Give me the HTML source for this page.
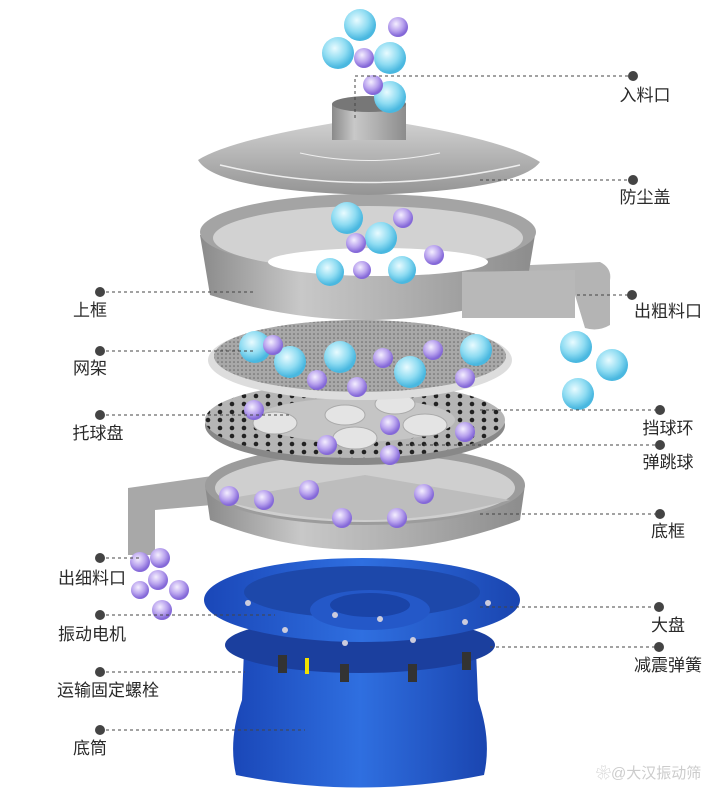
<!DOCTYPE html>
<html><head><meta charset="utf-8"><style>
html,body{margin:0;padding:0;background:#fff}
svg{display:block}
text{font-family:"Liberation Sans","Noto Sans CJK SC",sans-serif;font-size:17px;fill:#2a2a2a}
</style></head><body>
<svg width="720" height="798" viewBox="0 0 720 798" xmlns="http://www.w3.org/2000/svg">
<defs>
<linearGradient id="steel" x1="0" x2="1"><stop offset="0" stop-color="#8a8a8a"/><stop offset=".3" stop-color="#c8c8c8"/><stop offset=".6" stop-color="#b0b0b0"/><stop offset="1" stop-color="#8c8c8c"/></linearGradient>
<linearGradient id="lid" x1="0" y1="0" x2="0" y2="1"><stop offset="0" stop-color="#d0d0d0"/><stop offset="1" stop-color="#949494"/></linearGradient>
<linearGradient id="blue" x1="0" x2="1"><stop offset="0" stop-color="#1a47b8"/><stop offset=".5" stop-color="#2f6fe0"/><stop offset="1" stop-color="#1a45b0"/></linearGradient>
<radialGradient id="cb" cx=".4" cy=".35" r=".6"><stop offset="0" stop-color="#e8fbff"/><stop offset=".6" stop-color="#8fdcf2"/><stop offset="1" stop-color="#4ab8e0"/></radialGradient>
<radialGradient id="pb" cx=".4" cy=".35" r=".6"><stop offset="0" stop-color="#f4eeff"/><stop offset=".6" stop-color="#b9a3ee"/><stop offset="1" stop-color="#8468d8"/></radialGradient>
<pattern id="holes" width="12" height="8" patternUnits="userSpaceOnUse"><rect width="12" height="8" fill="#b5b5b5"/><circle cx="4" cy="4" r="2.3" fill="#222"/></pattern>
<pattern id="mesh" width="4" height="4" patternUnits="userSpaceOnUse"><rect width="4" height="4" fill="#a8a8a8"/><circle cx="2" cy="2" r=".8" fill="#666"/></pattern>
</defs>

<!-- blue base drum -->
<path d="M244 650 L242 700 Q228 740 236 775 Q360 800 484 775 Q492 740 478 700 L476 650 Z" fill="url(#blue)"/>
<ellipse cx="360" cy="645" rx="135" ry="28" fill="#1b3f9e"/>
<ellipse cx="362" cy="600" rx="158" ry="42" fill="url(#blue)"/>
<ellipse cx="362" cy="592" rx="118" ry="26" fill="#1d48aa"/>
<ellipse cx="370" cy="610" rx="60" ry="20" fill="#2458c8"/>
<ellipse cx="370" cy="605" rx="40" ry="12" fill="#1a44a8"/>
<rect x="305" y="658" width="4" height="16" fill="#f2e200"/>
<g fill="#333"><rect x="278" y="655" width="9" height="18"/><rect x="340" y="664" width="9" height="18"/><rect x="408" y="664" width="9" height="18"/><rect x="462" y="652" width="9" height="18"/></g>
<g fill="#ccd"><circle cx="248" cy="603" r="3"/><circle cx="285" cy="630" r="3"/><circle cx="345" cy="643" r="3"/><circle cx="413" cy="640" r="3"/><circle cx="465" cy="622" r="3"/><circle cx="488" cy="603" r="3"/><circle cx="335" cy="615" r="3"/><circle cx="380" cy="619" r="3"/></g>

<!-- bottom frame -->
<path d="M128 488 L212 476 L212 505 L155 510 L155 555 L128 555 Z" fill="#a8a8a8"/>
<path d="M205 485 L210 520 Q360 580 520 520 L525 485 Z" fill="url(#steel)"/>
<ellipse cx="365" cy="485" rx="160" ry="40" fill="#9c9c9c"/>
<ellipse cx="365" cy="488" rx="150" ry="34" fill="#cfcfcf"/>
<path d="M220 500 L365 475 L510 500 Q365 540 220 500Z" fill="#bdbdbd"/>

<!-- ball tray -->
<ellipse cx="355" cy="425" rx="150" ry="40" fill="#888"/>
<ellipse cx="355" cy="420" rx="150" ry="38" fill="url(#holes)"/>
<ellipse cx="355" cy="420" rx="100" ry="22" fill="#c5c5c5"/>
<g fill="#e4e4e4" stroke="#aaa"><ellipse cx="275" cy="423" rx="22" ry="11"/><ellipse cx="355" cy="438" rx="22" ry="11"/><ellipse cx="425" cy="425" rx="22" ry="11"/><ellipse cx="345" cy="415" rx="20" ry="10"/><ellipse cx="395" cy="404" rx="20" ry="10"/></g>

<!-- mesh frame -->
<ellipse cx="360" cy="360" rx="152" ry="40" fill="#ddd"/>
<ellipse cx="360" cy="356" rx="146" ry="36" fill="url(#mesh)"/>

<!-- upper frame -->
<path d="M462 268 L600 262 Q612 268 610 280 L610 325 Q598 332 585 328 L575 295 L462 300 Z" fill="#b4b4b4"/>
<path d="M200 235 L210 295 Q365 345 525 295 L535 235 Z" fill="url(#steel)"/>
<ellipse cx="368" cy="232" rx="168" ry="38" fill="#a4a4a4"/>
<ellipse cx="368" cy="238" rx="155" ry="32" fill="#d2d2d2"/>
<ellipse cx="378" cy="262" rx="110" ry="14" fill="#fff"/>
<path d="M462 272 L575 270 L575 318 L462 318 Z" fill="#b8b8b8"/>

<!-- lid -->
<path d="M198 160 Q230 140 340 122 L395 122 Q505 140 540 162 Q520 190 368 195 Q215 190 198 160Z" fill="url(#lid)"/>
<path d="M220 165 Q368 200 520 165" stroke="#eee" fill="none" stroke-width="1.5"/>
<path d="M300 153 Q368 168 440 153" stroke="#eee" fill="none"/>
<rect x="332" y="104" width="74" height="36" fill="url(#steel)"/>
<ellipse cx="369" cy="104" rx="37" ry="8" fill="#777"/>

<!-- balls -->
<g fill="url(#cb)">
<circle cx="360" cy="25" r="16"/><circle cx="338" cy="53" r="16"/><circle cx="390" cy="58" r="16"/><circle cx="390" cy="97" r="16"/>
<circle cx="347" cy="218" r="16"/><circle cx="381" cy="238" r="16"/><circle cx="330" cy="272" r="14"/><circle cx="402" cy="270" r="14"/>
<circle cx="255" cy="347" r="16"/><circle cx="290" cy="362" r="16"/><circle cx="340" cy="357" r="16"/><circle cx="410" cy="372" r="16"/><circle cx="476" cy="350" r="16"/>
<circle cx="576" cy="347" r="16"/><circle cx="612" cy="365" r="16"/><circle cx="578" cy="394" r="16"/>
</g>
<g fill="url(#pb)">
<circle cx="398" cy="27" r="10"/><circle cx="364" cy="58" r="10"/><circle cx="373" cy="85" r="10"/>
<circle cx="403" cy="218" r="10"/><circle cx="356" cy="243" r="10"/><circle cx="434" cy="255" r="10"/><circle cx="362" cy="270" r="9"/>
<circle cx="273" cy="345" r="10"/><circle cx="317" cy="380" r="10"/><circle cx="383" cy="358" r="10"/><circle cx="433" cy="350" r="10"/><circle cx="465" cy="378" r="10"/><circle cx="357" cy="387" r="10"/>
<circle cx="254" cy="410" r="10"/><circle cx="390" cy="425" r="10"/><circle cx="327" cy="445" r="10"/><circle cx="390" cy="455" r="10"/><circle cx="465" cy="432" r="10"/>
<circle cx="229" cy="496" r="10"/><circle cx="264" cy="500" r="10"/><circle cx="309" cy="490" r="10"/><circle cx="342" cy="518" r="10"/><circle cx="397" cy="518" r="10"/><circle cx="424" cy="494" r="10"/>
<circle cx="140" cy="562" r="10"/><circle cx="160" cy="558" r="10"/><circle cx="158" cy="580" r="10"/><circle cx="179" cy="590" r="10"/><circle cx="162" cy="610" r="10"/><circle cx="140" cy="590" r="9"/>
</g>

<!-- leader lines -->
<g stroke="#444" stroke-dasharray="3,3" fill="none" stroke-width="1">
<path d="M355 118 V76 H632"/>
<path d="M480 180 H632"/>
<path d="M577 295 H632"/>
<path d="M480 410 H660"/>
<path d="M400 445 H660"/>
<path d="M480 514 H660"/>
<path d="M480 607 H659"/>
<path d="M490 647 H659"/>
<path d="M100 292 H255"/>
<path d="M100 351 H255"/>
<path d="M100 415 H290"/>
<path d="M100 558 H140"/>
<path d="M100 615 H275"/>
<path d="M100 672 H245"/>
<path d="M100 730 H305"/>
</g>
<g fill="#444">
<circle cx="633" cy="76" r="5"/><circle cx="633" cy="180" r="5"/><circle cx="632" cy="295" r="5"/>
<circle cx="660" cy="410" r="5"/><circle cx="660" cy="445" r="5"/><circle cx="660" cy="514" r="5"/>
<circle cx="659" cy="607" r="5"/><circle cx="659" cy="647" r="5"/>
<circle cx="100" cy="292" r="5"/><circle cx="100" cy="351" r="5"/><circle cx="100" cy="415" r="5"/>
<circle cx="100" cy="558" r="5"/><circle cx="100" cy="615" r="5"/><circle cx="100" cy="672" r="5"/><circle cx="100" cy="730" r="5"/>
</g>
<g text-anchor="middle">
<text x="645" y="101">入料口</text>
<text x="645" y="203">防尘盖</text>
<text x="668" y="317">出粗料口</text>
<text x="668" y="434">挡球环</text>
<text x="668" y="468">弹跳球</text>
<text x="668" y="537">底框</text>
<text x="668" y="631">大盘</text>
<text x="668" y="671">减震弹簧</text>
<text x="90" y="316">上框</text>
<text x="90" y="374">网架</text>
<text x="98" y="439">托球盘</text>
<text x="92" y="584">出细料口</text>
<text x="92" y="640">振动电机</text>
<text x="108" y="696">运输固定螺栓</text>
<text x="90" y="754">底筒</text>
</g>
<text x="596" y="778" style="font-size:15px;fill:#ccc">❀@大汉振动筛</text>
</svg>
</body></html>
